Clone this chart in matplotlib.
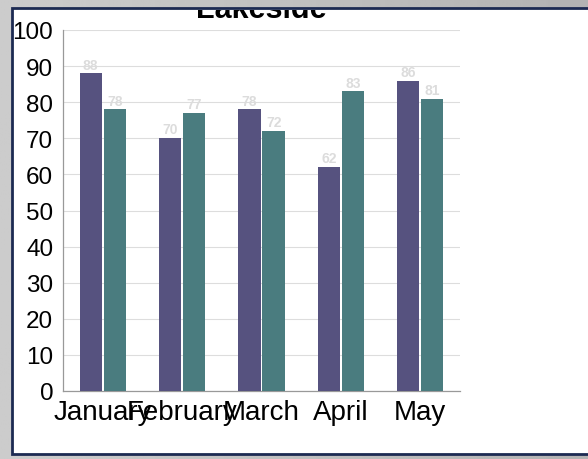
import numpy as np
import matplotlib
matplotlib.use("Agg")
import matplotlib.pyplot as plt
from matplotlib.patches import Rectangle

plt.rcParams['font.family'] = ['Liberation Sans', 'DejaVu Sans']

title = "Lakeside"
categories = ["January", "February", "March", "April", "May"]
series_a = [88, 70, 78, 62, 86]
series_b = [78, 77, 72, 83, 81]
y_ticks = [0, 10, 20, 30, 40, 50, 60, 70, 80, 90, 100]

W, H = 588, 460
fig = plt.figure(figsize=(W / 100, H / 100), dpi=100)

# background gradient (screenshot frame)
bg = fig.add_axes([0, 0, 1, 1], zorder=-10)
grad = np.linspace(0.80, 0.70, 256)[None, :]
grad = np.vstack([grad] * 2)
bg.imshow(grad, cmap='gray', vmin=0, vmax=1, aspect='auto', extent=[0, 1, 0, 1])
bg.set_xlim(0, 1); bg.set_ylim(0, 1)
bg.axis('off')

# white panel with navy border
px0, py0 = 12 / W, 1 - 455 / H
px1, py1 = 1.02, 1 - 9 / H
panel = Rectangle((px0, py0), px1 - px0, py1 - py0, transform=fig.transFigure,
                  facecolor='white', edgecolor='#1c2a52', linewidth=2.0, zorder=-5)
fig.patches.append(panel)

ax = fig.add_axes([63 / W, 1 - 392 / H, (460 - 63) / W, (392 - 31) / H])
ax.patch.set_alpha(0)

x = np.arange(len(categories))
bw = 0.28
gap = 0.012
c1, c2 = '#56527f', '#4a7c7f'
b1 = ax.bar(x - bw / 2 - gap, series_a, width=bw, color=c1, zorder=3)
b2 = ax.bar(x + bw / 2 + gap, series_b, width=bw, color=c2, zorder=3)
for bars, vals in ((b1, series_a), (b2, series_b)):
    for r, v in zip(bars, vals):
        ax.text(r.get_x() + r.get_width() / 2, v + 0.5, str(v), ha='center', va='bottom',
                fontsize=10, fontweight='bold', color='#dcdcdc', zorder=4)

ax.set_xlim(-0.5, len(categories) - 0.5)
ax.set_ylim(0, 100)
ax.set_yticks(y_ticks)
ax.set_yticklabels([str(t) for t in y_ticks], fontsize=17.5)
ax.set_xticks(x)
ax.set_xticklabels(categories, fontsize=20)
ax.tick_params(axis='both', length=0, colors='black')
ax.tick_params(axis='y', pad=7)
ax.tick_params(axis='x', pad=6)
ax.grid(axis='y', color='#dddddd', linewidth=0.8, zorder=0)
for s in ('top', 'right'):
    ax.spines[s].set_visible(False)
for s in ('left', 'bottom'):
    ax.spines[s].set_color('#999999')
    ax.spines[s].set_linewidth(0.9)

t = ax.set_title(title, fontsize=22, fontweight='bold', pad=9)
clip = Rectangle((px0, py0), px1 - px0, py1 - py0 - 1.5 / H, transform=fig.transFigure)
t.set_clip_path(clip)

fig.savefig('out.png', dpi=100)
